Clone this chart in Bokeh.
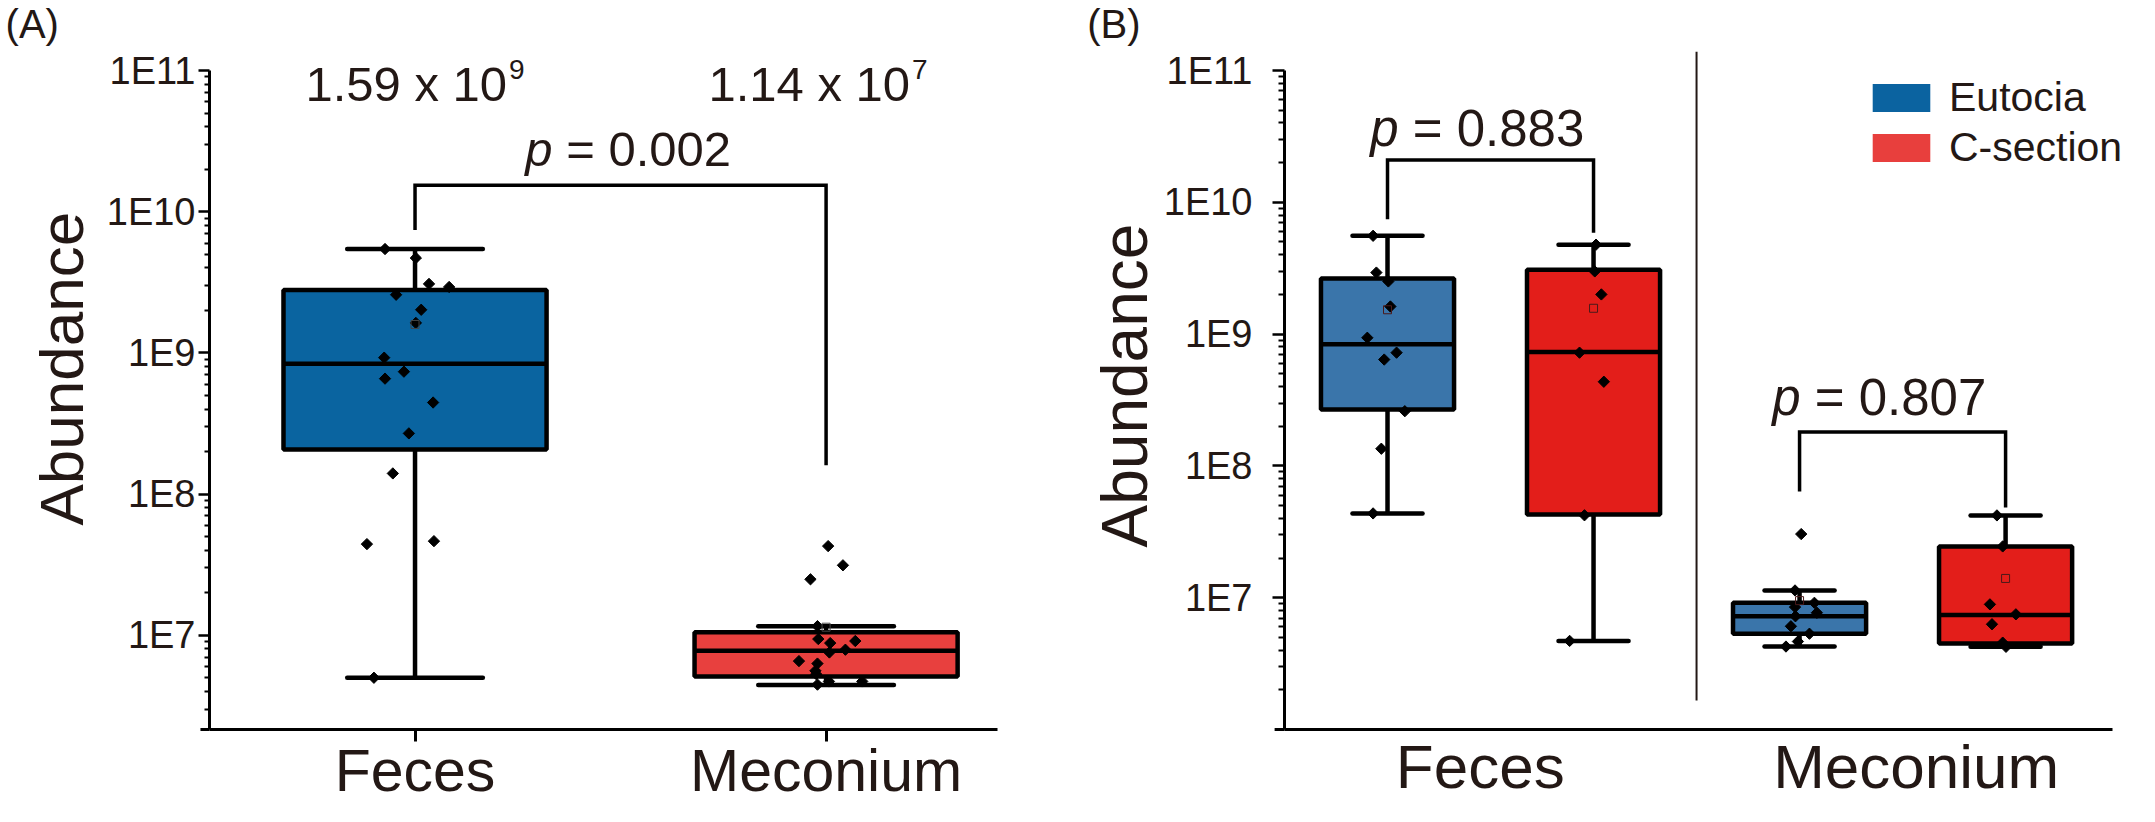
import math
from bokeh.plotting import figure
from bokeh.models import FixedTicker, Legend, LegendItem, Range1d, CustomJSTickFormatter
from bokeh.core.properties import value
from bokeh.layouts import row
from bokeh.embed import file_html
from bokeh.resources import INLINE

# ------------------------------------------------------------------ data
# Panel A : all infants, by sample type
a_groups = ["Feces", "Meconium"]
a_feces = [5.44e9, 4.70e9, 3.08e9, 2.93e9, 2.58e9, 2.02e9, 1.63e9, 9.25e8,
           7.36e8, 6.57e8, 4.45e8, 2.69e8, 1.40e8, 4.42e7, 4.64e7, 5.0e6]
a_feces_jitter = [-0.073, 0.002, 0.034, 0.083, -0.046, 0.015, 0.002, -0.075,
                  -0.027, -0.073, 0.044, -0.015, -0.054, -0.117, 0.046, -0.100]
a_meconium = [4.28e7, 3.13e7, 2.49e7, 1.16e7, 9.4e6, 8.8e6, 9.1e6, 7.9e6,
              7.55e6, 6.56e6, 6.3e6, 5.6e6, 5.3e6, 4.71e6, 4.71e6, 4.47e6]
a_meconium_jitter = [0.005, 0.041, -0.038, -0.021, -0.019, 0.010, 0.071, 0.047,
                     0.008, -0.066, -0.021, -0.026, -0.024, 0.007, 0.088, -0.021]
a_box_low = [5.0e6, 4.45e6]
a_box_q1 = [2.07e8, 5.1e6]
a_box_median = [8.39e8, 7.76e6]
a_box_q3 = [2.79e9, 1.05e7]
a_box_high = [5.44e9, 1.16e7]
a_means = [1.59e9, 1.14e7]
a_p_value = "0.002"
a_bracket = [1.54e10, 7.41e9, 1.60e8]          # top, left leg end, right leg end

# Panel B : by delivery mode within sample type
b_groups = ["Feces", "Meconium"]
b_modes = ["Eutocia", "C-section"]
b_feces_eutocia = [5.57e9, 2.93e9, 2.51e9, 1.62e9, 9.38e8, 7.23e8, 6.41e8,
                   2.60e8, 1.35e8, 4.36e7]
b_feces_eutocia_jitter = [-0.035, -0.027, 0.002, 0.007, -0.049, 0.022, -0.008,
                          0.042, -0.015, -0.035]
b_feces_csection = [4.77e9, 2.99e9, 2.0e9, 7.23e8, 4.35e8, 4.22e7, 4.70e6]
b_feces_csection_jitter = [0.006, 0.003, 0.019, -0.034, 0.025, -0.022, -0.058]
b_meconium_eutocia = [3.04e7, 1.135e7, 9.15e6, 8.49e6, 7.69e6, 7.23e6, 6.07e6,
                      5.33e6, 4.65e6, 4.26e6]
b_meconium_eutocia_jitter = [0.004, -0.011, 0.036, -0.011, 0.042, -0.010,
                             -0.021, 0.024, -0.004, -0.033]
b_meconium_csection = [4.21e7, 2.45e7, 8.9e6, 7.48e6, 6.29e6, 4.56e6, 4.24e6]
b_meconium_csection_jitter = [-0.021, -0.007, -0.038, 0.025, -0.033, -0.007, 0.001]
# order: Feces-Eutocia, Feces-C-section, Meconium-Eutocia, Meconium-C-section
b_box_low = [4.36e7, 4.70e6, 4.26e6, 4.24e6]
b_box_q1 = [2.68e8, 4.28e7, 5.33e6, 4.50e6]
b_box_median = [8.37e8, 7.33e8, 7.23e6, 7.39e6]
b_box_q3 = [2.64e9, 3.08e9, 9.15e6, 2.45e7]
b_box_high = [5.57e9, 4.77e9, 1.135e7, 4.21e7]
b_means = [1.53e9, 1.57e9, 9.5e6, 1.40e7]
b_p_values = ["0.883", "0.807"]
b_brackets = [[2.09e10, 7.43e9, 5.88e9], [1.81e8, 6.4e7, 4.83e7]]

y_ticks = [1e7, 1e8, 1e9, 1e10, 1e11]
y_tick_labels = ["1E7", "1E8", "1E9", "1E10", "1E11"]

# ------------------------------------------------------------------ style
FONT = "Liberation Sans"
TEXT = "#231815"
A_COLORS = ["#0a64a0", "#e8403e"]
B_COLORS = ["#3a75aa", "#e31e1a"]
LEGEND_COLORS = ["#0b63a0", "#e83f3d"]
LW = 4.5


def minor_ticks(lo, hi):
    out = []
    for e in range(5, 12):
        for m in range(2, 10):
            v = m * 10.0 ** e
            if lo <= v <= hi:
                out.append(v)
    return out


def style_axes(p, y_lo, y_hi, tick_out, minor_out, standoff):
    p.grid.visible = False
    p.outline_line_color = None
    p.background_fill_color = "white"
    p.border_fill_color = "white"
    ya = p.yaxis[0]
    ya.ticker = FixedTicker(ticks=y_ticks, minor_ticks=minor_ticks(y_lo, y_hi))
    ya.formatter = CustomJSTickFormatter(
        args=dict(tv=y_ticks, tl=y_tick_labels),
        code="for (let i = 0; i < tv.length; i++) {"
             " if (Math.abs(Math.log10(tv[i]) - Math.log10(tick)) < 1e-6) return tl[i]; }"
             " return '';")
    ya.major_label_text_font = FONT
    ya.major_label_text_font_size = "38px"
    ya.major_label_text_color = TEXT
    ya.major_label_standoff = standoff
    ya.axis_line_width = 3
    ya.axis_line_color = "black"
    ya.major_tick_out = tick_out
    ya.major_tick_in = 0
    ya.minor_tick_out = minor_out
    ya.minor_tick_in = 0
    ya.major_tick_line_width = 2.5
    ya.minor_tick_line_width = 2
    xa = p.xaxis[0]
    xa.axis_line_width = 3
    xa.axis_line_color = "black"
    xa.minor_tick_line_color = None


def add_text(p, xs, ys, texts, size, align="left", baseline="alphabetic",
             style="normal", **kw):
    # overlay level: texts that lie outside the data frame are kept
    p.text(x=xs, y=ys, text=texts, text_font=value(FONT),
           text_font_size=value(f"{size}px"), text_color=TEXT,
           text_align=value(align), text_baseline=value(baseline),
           text_font_style=value(style), level="overlay", **kw)


def draw_boxes(p, xs, low, q1, med, q3, high, colors, box_w, cap_w, lw):
    p.segment(x0=xs, y0=q3, x1=xs, y1=high, line_width=lw, line_color="black")
    p.segment(x0=xs, y0=low, x1=xs, y1=q1, line_width=lw, line_color="black")
    p.segment(x0=[x - cap_w / 2 for x in xs], y0=high,
              x1=[x + cap_w / 2 for x in xs], y1=high,
              line_width=lw, line_color="black", line_cap="round")
    p.segment(x0=[x - cap_w / 2 for x in xs], y0=low,
              x1=[x + cap_w / 2 for x in xs], y1=low,
              line_width=lw, line_color="black", line_cap="round")
    p.vbar(x=xs, width=box_w, bottom=q1, top=q3, fill_color=colors,
           line_color="black", line_width=lw)
    p.segment(x0=[x - box_w / 2 for x in xs], y0=med,
              x1=[x + box_w / 2 for x in xs], y1=med,
              line_width=lw, line_color="black")


def draw_points(p, center, values, jitter):
    p.scatter(x=[center + j for j in jitter], y=values, marker="square",
              angle=math.pi / 4, size=8, fill_color="black", line_color="black")


def draw_bracket(p, x_left, x_right, top, left_end, right_end):
    p.line(x=[x_left, x_left, x_right, x_right],
           y=[left_end, top, top, right_end],
           line_width=3.5, line_color="black", line_join="miter")


def add_p(p, x, y, x_off, pval, size):
    add_text(p, [x], [y], ["p"], size, align="right", style="italic", x_offset=x_off)
    add_text(p, [x], [y], ["\u00a0=\u00a0" + pval], size, align="left", x_offset=x_off)


# ------------------------------------------------------------------ panel A
A_LO, A_HI = 2.15e6, 1e11
pA = figure(width=1072, height=806, x_range=Range1d(0.5, 2.417),
            y_range=Range1d(A_LO, A_HI), y_axis_type="log",
            output_backend="svg", toolbar_location=None, title=None,
            min_border_left=209, min_border_right=75,
            min_border_top=70, min_border_bottom=75)
style_axes(pA, A_LO, A_HI, 11, 5, 3)
a_x = [i + 1 for i in range(len(a_groups))]
xa = pA.xaxis[0]
xa.ticker = FixedTicker(ticks=a_x)
xa.major_label_overrides = {x: g for x, g in zip(a_x, a_groups)}
xa.major_label_text_font = FONT
xa.major_label_text_font_size = "59px"
xa.major_label_text_color = TEXT
xa.major_label_standoff = -4
xa.major_tick_out = 12
xa.major_tick_in = 0
xa.major_tick_line_width = 3
# short stub of the x axis line to the left of the y axis
pA.segment(x0=[0.478], y0=[A_LO], x1=[0.5], y1=[A_LO], line_width=3,
           line_color="black", level="overlay")

draw_boxes(pA, a_x, a_box_low, a_box_q1, a_box_median, a_box_q3, a_box_high,
           A_COLORS, 0.64, 0.33, LW)
draw_points(pA, a_x[0], a_feces, a_feces_jitter)
draw_points(pA, a_x[1], a_meconium, a_meconium_jitter)
pA.scatter(x=a_x, y=a_means, marker="square", size=8, fill_color=None,
           line_color="#444444", line_width=1)
draw_bracket(pA, a_x[0], a_x[1], *a_bracket)
add_p(pA, (a_x[0] + a_x[1]) / 2, 2.78e10, -68, a_p_value, 49)

for i, m in enumerate(a_means):
    e = int(math.floor(math.log10(m)))
    mant = m / 10 ** e
    off = 92 if i == 0 else 84
    add_text(pA, [a_x[i]], [8.0e10], [f"{mant:.2f} x 10"], 49, align="right",
             x_offset=off)
    add_text(pA, [a_x[i]], [1.015e11], [str(e)], 28, align="left", x_offset=off + 2)

add_text(pA, [0.140], [7.73e8], ["Abundance"], 62, align="center",
         baseline="middle", angle=math.pi / 2)
add_text(pA, [0.004], [2.14e11], ["(A)"], 40)

# ------------------------------------------------------------------ panel B
B_LO, B_HI = 1e6, 1e11
DODGE = 0.25
pB = figure(width=1067, height=806, x_range=Range1d(0.5, 2.575),
            y_range=Range1d(B_LO, B_HI), y_axis_type="log",
            output_backend="svg", toolbar_location=None, title=None,
            min_border_left=212, min_border_right=0,
            min_border_top=70, min_border_bottom=75)
style_axes(pB, B_LO, B_HI, 12, 6, 20)
xb = pB.xaxis[0]
xb.ticker = FixedTicker(ticks=[])
xb.major_tick_line_color = None
xb.bounds = (0.5, 2.51)
pB.segment(x0=[0.476], y0=[B_LO], x1=[0.5], y1=[B_LO], line_width=3,
           line_color="black", level="overlay")

b_centers = [i + 1 for i in range(len(b_groups))]
b_x = [c + d for c in b_centers for d in (-DODGE, DODGE)]
b_box_colors = [B_COLORS[k % 2] for k in range(len(b_x))]

# separator between sample types (reaches a little above the top tick)
pB.segment(x0=[1.5], y0=[1.66e6], x1=[1.5], y1=[1.39e11], line_width=2,
           line_color=TEXT, level="overlay")

draw_boxes(pB, b_x, b_box_low, b_box_q1, b_box_median, b_box_q3, b_box_high,
           b_box_colors, 0.323, 0.17, LW)
draw_points(pB, b_x[0], b_feces_eutocia, b_feces_eutocia_jitter)
draw_points(pB, b_x[1], b_feces_csection, b_feces_csection_jitter)
draw_points(pB, b_x[2], b_meconium_eutocia, b_meconium_eutocia_jitter)
draw_points(pB, b_x[3], b_meconium_csection, b_meconium_csection_jitter)
pB.scatter(x=b_x, y=b_means, marker="square", size=8, fill_color=None,
           line_color="#4a1a1a", line_width=1)

for gi, br in enumerate(b_brackets):
    draw_bracket(pB, b_x[2 * gi], b_x[2 * gi + 1], *br)
add_p(pB, b_centers[0], 3.65e10, -92, b_p_values[0], 51)
add_p(pB, b_centers[1], 3.29e8, -102, b_p_values[1], 51)

add_text(pB, [0.975, 2.033], [2.85e5, 2.85e5], b_groups, 62, align="center",
         baseline="bottom")
add_text(pB, [0.113], [4.07e8], ["Abundance"], 64, align="center",
         baseline="middle", angle=math.pi / 2)
add_text(pB, [0.021], [2.26e11], ["(B)"], 40)

# legend (swatches come from off-range stand-in bars)
leg_r = [pB.vbar(x=[-5], width=[0.1], top=[1e7], bottom=[1e6], fill_color=c,
                 line_color=None) for c in LEGEND_COLORS]
legend = Legend(items=[LegendItem(label=m, renderers=[r])
                       for m, r in zip(b_modes, leg_r)],
                location=(581, 558), glyph_width=72, glyph_height=35,
                label_text_font=FONT, label_text_font_size="41px",
                label_text_color=TEXT, label_standoff=12, spacing=3,
                padding=0, margin=0, border_line_color=None,
                background_fill_alpha=0)
pB.add_layout(legend)

layout = row(pA, pB)
open("out.html", "w").write(file_html(layout, INLINE))
